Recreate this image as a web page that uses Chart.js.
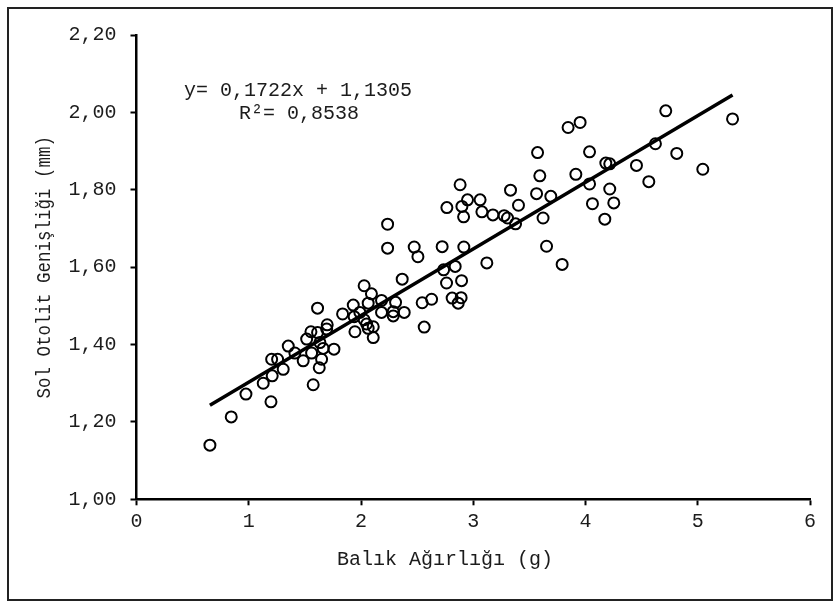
<!DOCTYPE html>
<html>
<head>
<meta charset="utf-8">
<script src="https://cdn.jsdelivr.net/npm/chart.js@4/dist/chart.umd.min.js"></script>
<style>
  html, body { margin: 0; padding: 0; background: #fff; }
  canvas { display: block; }
</style>
</head>
<body>
<canvas id="c" width="840" height="608"></canvas>
<script>
// Fish weight (g)
const weights = [
  0.654, 0.844, 0.975, 1.198, 1.129, 1.209, 1.204, 1.257, 1.307, 1.352,
  1.411, 1.485, 1.516, 1.554, 1.560, 1.574, 1.613, 1.613, 1.628, 1.649,
  1.663, 1.634, 1.699, 1.694, 1.759, 1.836, 1.931, 1.946, 1.939, 1.990,
  2.028, 2.028, 2.050, 2.064, 2.064, 2.093, 2.109, 2.109, 2.183, 2.183,
  2.287, 2.287, 2.308, 2.385, 2.367, 2.237, 2.237, 2.545, 2.629, 2.563,
  2.474, 2.507, 2.723, 2.916, 2.736, 2.839, 2.762, 2.896, 2.812, 2.892,
  2.866, 3.121, 3.653, 3.792, 2.883, 2.949, 2.899, 2.765, 2.914, 3.061,
  3.077, 3.175, 3.275, 3.305, 3.377, 3.403, 3.332, 3.564, 3.593, 3.573,
  3.622, 3.691, 3.845, 3.952, 3.914, 4.036, 4.036, 4.062, 4.181, 4.216,
  4.216, 4.252, 4.172, 4.454, 4.564, 4.623, 4.715, 4.813, 5.045, 5.310
];
// Left otolith width (mm)
const otolithWidths = [
  1.140, 1.213, 1.272, 1.252, 1.300, 1.319, 1.362, 1.362, 1.336, 1.396,
  1.378, 1.358, 1.414, 1.433, 1.378, 1.296, 1.431, 1.494, 1.340, 1.362,
  1.390, 1.405, 1.451, 1.440, 1.388, 1.479, 1.502, 1.433, 1.472, 1.483,
  1.552, 1.464, 1.453, 1.507, 1.442, 1.531, 1.446, 1.418, 1.514, 1.483,
  1.485, 1.474, 1.509, 1.483, 1.569, 1.711, 1.649, 1.508, 1.517, 1.445,
  1.652, 1.627, 1.653, 1.652, 1.593, 1.602, 1.559, 1.565, 1.520, 1.521,
  1.507, 1.611, 1.654, 1.607, 1.813, 1.774, 1.757, 1.754, 1.730, 1.774,
  1.743, 1.735, 1.733, 1.727, 1.712, 1.760, 1.799, 1.790, 1.836, 1.896,
  1.727, 1.783, 1.961, 1.974, 1.840, 1.898, 1.815, 1.764, 1.869, 1.867,
  1.802, 1.766, 1.724, 1.863, 1.821, 1.919, 2.004, 1.894, 1.853, 1.983
];

// Linear fit y = slope * x + intercept
const slope = 0.1722;
const intercept = 1.1305;
const rSquared = 0.8538;

const xTicks = [0, 1, 2, 3, 4, 5, 6];
const yTicks = [1.00, 1.20, 1.40, 1.60, 1.80, 2.00, 2.20];

const xTitle = 'Balık Ağırlığı (g)';
const yTitle = 'Sol Otolit Genişliği (mm)';

const FONT = '"Liberation Mono", "Courier New", monospace';
const INK = '#1c1c1c';

const fmt = v => v.toFixed(4).replace('.', ',');
const eqLine1 = 'y= ' + fmt(slope) + 'x + ' + fmt(intercept);
const eqLine2 = 'R²= ' + fmt(rSquared);

const points = weights.map((w, i) => ({ x: w, y: otolithWidths[i] }));
const xMin = Math.min(...weights);
const xMax = Math.max(...weights);
const fitLine = [
  { x: xMin, y: slope * xMin + intercept },
  { x: xMax, y: slope * xMax + intercept }
];

// Frame, axis titles and the fit equation
const decorations = {
  id: 'decorations',
  afterDraw(chart) {
    const ctx = chart.ctx;
    const a = chart.chartArea;
    ctx.save();
    ctx.strokeStyle = '#222';
    ctx.lineWidth = 2;
    ctx.strokeRect(8, 8, 824, 592);

    ctx.fillStyle = INK;
    ctx.font = '20px ' + FONT;
    ctx.textAlign = 'center';
    ctx.textBaseline = 'middle';
    ctx.fillText(xTitle, 445, 560);

    // vertical title: tighter spacing, taller glyphs
    ctx.save();
    ctx.translate(45, (a.top + a.bottom) / 2);
    ctx.rotate(-Math.PI / 2);
    ctx.scale(1, 1.15);
    ctx.font = '17.5px ' + FONT;
    ctx.fillText(yTitle, 0, 0);
    ctx.restore();

    ctx.fillText(eqLine1, 298, 91);
    ctx.fillText(eqLine2, 299, 114);
    ctx.restore();
  }
};

new Chart(document.getElementById('c'), {
  type: 'scatter',
  data: {
    datasets: [
      {
        label: 'fit',
        data: fitLine,
        showLine: true,
        borderColor: '#000',
        borderWidth: 3.5,
        pointRadius: 0,
        fill: false,
        order: 2
      },
      {
        label: 'data',
        data: points,
        pointStyle: 'circle',
        pointRadius: 5.5,
        pointBorderWidth: 2,
        pointBorderColor: '#000',
        pointBackgroundColor: 'rgba(255,255,255,0)',
        order: 1
      }
    ]
  },
  options: {
    responsive: false,
    animation: false,
    layout: { padding: { left: 0, top: 35, right: 30, bottom: 0 } },
    plugins: {
      legend: { display: false },
      tooltip: { enabled: false }
    },
    scales: {
      x: {
        type: 'linear',
        min: 0, max: 6,
        afterFit(s) { s.height = 108.7; },
        afterBuildTicks(s) { s.ticks = xTicks.map(v => ({ value: v })); },
        border: { display: true, color: '#000', width: 2.5 },
        grid: { display: true, drawOnChartArea: false, drawTicks: true, tickLength: 6, color: '#000', tickWidth: 2 },
        ticks: {
          color: INK,
          font: { family: FONT, size: 20 },
          padding: 4,
          callback: v => String(v)
        }
      },
      y: {
        type: 'linear',
        min: 1, max: 2.2,
        afterFit(s) { s.width = 136.5; },
        afterBuildTicks(s) { s.ticks = yTicks.map(v => ({ value: v })); },
        border: { display: true, color: '#000', width: 2.5 },
        grid: { display: true, drawOnChartArea: false, drawTicks: true, tickLength: 6, color: '#000', tickWidth: 2 },
        ticks: {
          color: INK,
          font: { family: FONT, size: 20 },
          padding: 14,
          callback: v => v.toFixed(2).replace('.', ',')
        }
      }
    }
  },
  plugins: [decorations]
});
</script>
</body>
</html>
